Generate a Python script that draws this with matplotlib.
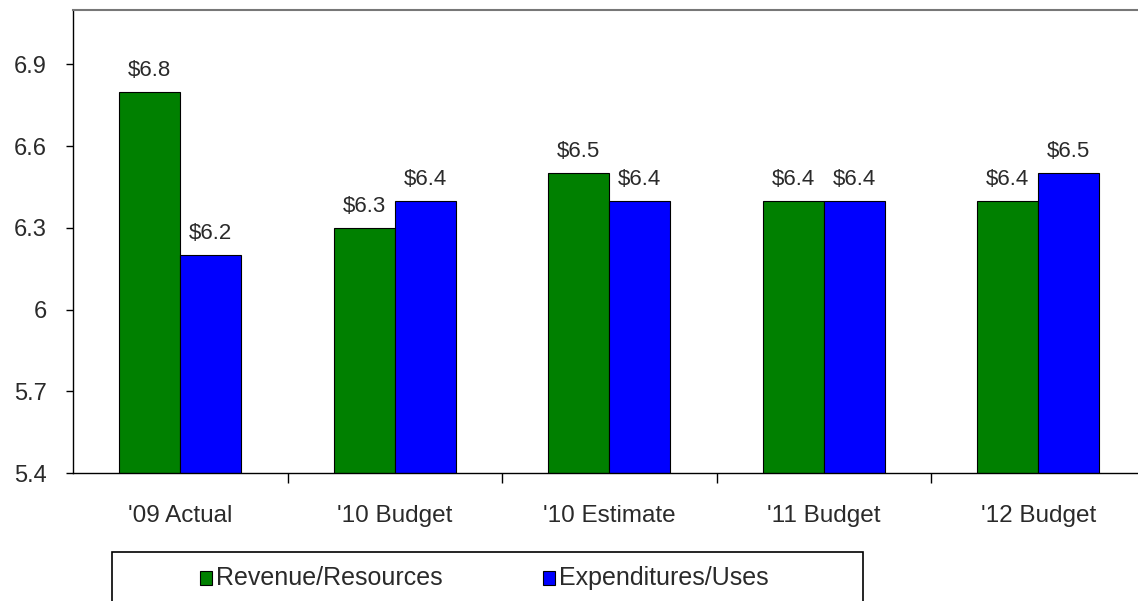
import matplotlib
matplotlib.use("Agg")
import matplotlib.pyplot as plt
from matplotlib.patches import Rectangle
import numpy as np

categories = ["'09 Actual", "'10 Budget", "'10 Estimate", "'11 Budget", "'12 Budget"]
revenue = [6.8, 6.3, 6.5, 6.4, 6.4]
expenditures = [6.2, 6.4, 6.4, 6.4, 6.5]
series_names = ["Revenue/Resources", "Expenditures/Uses"]
y_ticks = [5.4, 5.7, 6.0, 6.3, 6.6, 6.9]

plt.rcParams["font.family"] = ["Liberation Sans", "DejaVu Sans"]

W, H = 1138, 601
fig = plt.figure(figsize=(W / 100, H / 100), dpi=100)
left, right = 73, 1145.5
bottom, top = 473, 10
ax = fig.add_axes([left / W, 1 - bottom / H, (right - left) / W, (bottom - top) / H])

green = "#008000"
blue = "#0000FF"
text_col = "#2a2a2a"
x = np.arange(len(categories))
bw = 0.285
ax.bar(x - bw / 2, revenue, bw, color=green, edgecolor="black", linewidth=0.8, label=series_names[0])
ax.bar(x + bw / 2, expenditures, bw, color=blue, edgecolor="black", linewidth=0.8, label=series_names[1])

for xs, vals in [(x - bw / 2, revenue), (x + bw / 2, expenditures)]:
    for xi, v in zip(xs, vals):
        ax.annotate(f"${v:.1f}", (xi, v), xytext=(0, 8), textcoords="offset points",
                    ha="center", va="bottom", fontsize=16, color=text_col)

ax.set_xlim(-0.5, len(categories) - 0.5)
ax.set_ylim(5.4, 7.1)
ax.set_yticks(y_ticks)
ax.set_yticklabels([f"{t:g}" for t in y_ticks], fontsize=17, color=text_col)
ax.tick_params(axis="y", direction="out", length=5, width=1, pad=14)

ax.set_xticks(x)
ax.set_xticklabels(categories, fontsize=17.5, color=text_col)
ax.tick_params(axis="x", length=0, pad=23)
ax.set_xticks(np.arange(len(categories) - 1) + 0.5, minor=True)
ax.tick_params(axis="x", which="minor", direction="out", length=7, width=1)

ax.spines["top"].set_color("#777777")
ax.spines["top"].set_linewidth(1.5)
ax.spines["right"].set_visible(False)
ax.spines["left"].set_linewidth(1)
ax.spines["bottom"].set_linewidth(1)

# legend box running off the lower edge of the figure
fig.patches.append(Rectangle((112 / W, -0.05), (863 - 112) / W, 0.05 + (601 - 552) / H,
                             transform=fig.transFigure, facecolor="white",
                             edgecolor="black", linewidth=1.2, clip_on=False))
ly = 1 - 578 / H
for mx, col, name in [(200, green, series_names[0]), (543, blue, series_names[1])]:
    fig.patches.append(Rectangle((mx / W, ly - 7 / H), 12 / W, 14 / H, transform=fig.transFigure,
                                 facecolor=col, edgecolor="black", linewidth=0.8))
    fig.text((mx + 16) / W, ly, name, ha="left", va="center", fontsize=18, color=text_col)

fig.savefig("out.png", dpi=100)
